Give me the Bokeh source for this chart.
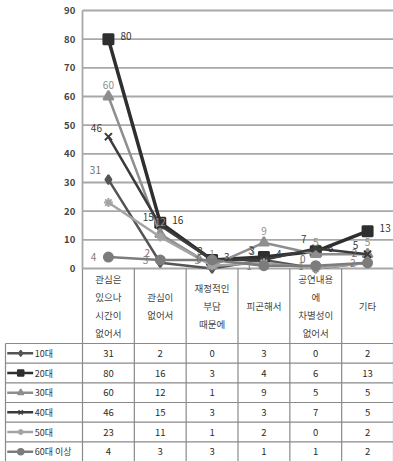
from bokeh.plotting import figure
from bokeh.models import Range1d
from bokeh.core.properties import value
from bokeh.embed import file_html
from bokeh.resources import INLINE

# ---------------- data ----------------
categories = ["관심은\n있으나\n시간이\n없어서", "관심이\n없어서", "재정적인\n부담\n때문에",
              "피곤해서", "공연내용\n에\n차별성이\n없어서", "기타"]
series_names = ["10대", "20대", "30대", "40대", "50대", "60대 이상"]
v10 = [31, 2, 0, 3, 0, 2]
v20 = [80, 16, 3, 4, 6, 13]
v30 = [60, 12, 1, 9, 5, 5]
v40 = [46, 15, 3, 3, 7, 5]
v50 = [23, 11, 1, 2, 0, 2]
v60 = [4, 3, 3, 1, 1, 2]
y_ticks = [0, 10, 20, 30, 40, 50, 60, 70, 80, 90]

series_values = [v10, v20, v30, v40, v50, v60]

# ---------------- styles ----------------
FONT = value("Noto Sans CJK KR")
colors = ["#555555", "#2f2f2f", "#8e8e8e", "#3c3c3c", "#a3a3a3", "#7c7c7c"]
label_colors = ["#6e6e6e", "#333333", "#8e8e8e", "#3c3c3c", "#a8a8a8", "#7c7c7c"]
markers = ["diamond", "square", "triangle", "x", "asterisk", "circle"]
marker_sizes = [9, 10, 10, 10, 9, 9]
line_widths = [2.5, 3.5, 2.5, 2.5, 2.5, 2.5]
show_labels = [True, True, True, True, False, True]
# label offsets (px) per series
lab_dx = [-13, 12, 0, -12, -10, -12]
lab_dy = [-10, -3, -12, -9, 10, 0]
lab_align = ["center", "left", "center", "center", "center", "right"]

W, H = 393, 461
n = len(categories)
plot_px = 311.0           # width of category area in px
legend_px = 82.0          # px left of category area
X0 = -legend_px * n / plot_px
col_px = plot_px / n
tbl_left = X0 + 5.0 / col_px

zero_rel = 268.0          # px from top of frame where value 0 sits
top_rel = 10.0            # px from top where value 90 sits
ppu = (zero_rel - top_rel) / 90.0
head_h = 75.0
row_h = (H - zero_rel - head_h) / len(series_names)
head_u = head_h / row_h
t_top = -(zero_rel + head_h) / row_h

p = figure(width=W, height=H, x_range=Range1d(X0, n),
           y_range=Range1d(-(H - zero_rel) / ppu, 90 + top_rel / ppu),
           x_axis_type=None, y_axis_type=None,
           output_backend="svg", toolbar_location=None, min_border=0)
p.grid.visible = False
p.outline_line_color = None
p.background_fill_color = "white"
p.border_fill_color = "white"
p.extra_y_ranges = {"table": Range1d(start=len(series_names), end=t_top)}

# gridlines and chart border
p.segment(x0=[0] * len(y_ticks), x1=[n] * len(y_ticks), y0=y_ticks, y1=y_ticks,
          line_color="#a8a8a8", line_width=1.8)
p.segment(x0=[0], x1=[0], y0=[0], y1=[max(y_ticks)], line_color="#a8a8a8", line_width=1.8)

# y tick labels
p.text(x=[-0.14] * len(y_ticks), y=y_ticks, text=[str(t) for t in y_ticks],
       text_align="right", text_baseline="middle", text_font=FONT,
       text_font_size="9.5px", text_font_style="bold", text_color="#444444")

# ---------------- table ----------------
nr = len(series_names)
grid_col = "#8a8a8a"
p.segment(x0=[tbl_left] * (nr + 1), x1=[n] * (nr + 1), y0=list(range(nr + 1)),
          y1=list(range(nr + 1)), line_color=grid_col, line_width=1.2, y_range_name="table")
p.segment(x0=list(range(n + 1)), x1=list(range(n + 1)), y0=[-head_u] * (n + 1),
          y1=[nr] * (n + 1), line_color=grid_col, line_width=1.2, y_range_name="table")
p.segment(x0=[tbl_left], x1=[tbl_left], y0=[0], y1=[nr], line_color=grid_col,
          line_width=1.2, y_range_name="table")

# header (category names)
p.text(x=[i + 0.5 for i in range(n)], y=[-head_u / 2] * n, text=categories,
       y_range_name="table", text_align="center", text_baseline="middle",
       text_font=FONT, text_font_size="9.5px", text_color="#444444",
       text_line_height=1.28)

# legend cells and values
for r, (name, vals) in enumerate(zip(series_names, series_values)):
    yc = r + 0.5
    p.segment(x0=[X0 + 0.13], x1=[X0 + 0.63], y0=[yc], y1=[yc], line_color=colors[r],
              line_width=2.5, y_range_name="table")
    p.scatter(x=[X0 + 0.39], y=[yc], marker=markers[r], size=6, line_color=colors[r],
              fill_color=colors[r], line_width=1.5, y_range_name="table")
    p.text(x=[X0 + 0.66], y=[yc], text=[name], y_range_name="table", text_align="left",
           text_baseline="middle", text_font=FONT, text_font_size="9px", text_color="#333333")
    p.text(x=[i + 0.5 for i in range(n)], y=[yc] * n, text=[str(v) for v in vals],
           y_range_name="table", text_align="center", text_baseline="middle",
           text_font=FONT, text_font_size="9.5px", text_color="#2a2a2a")

# ---------------- series ----------------
xs = [i + 0.5 for i in range(n)]
for r, vals in enumerate(series_values):
    p.line(x=xs, y=vals, line_color=colors[r], line_width=line_widths[r])
    p.scatter(x=xs, y=vals, marker=markers[r], size=marker_sizes[r], line_color=colors[r],
              fill_color=colors[r], line_width=2)
for r, vals in enumerate(series_values):
    if not show_labels[r]:
        continue
    p.text(x=xs, y=vals, text=[str(v) for v in vals], x_offset=lab_dx[r], y_offset=lab_dy[r],
           text_align=lab_align[r], text_baseline="middle", text_font=FONT,
           text_font_size="10px", text_color=label_colors[r])

open("out.html", "w").write(file_html(p, INLINE))
